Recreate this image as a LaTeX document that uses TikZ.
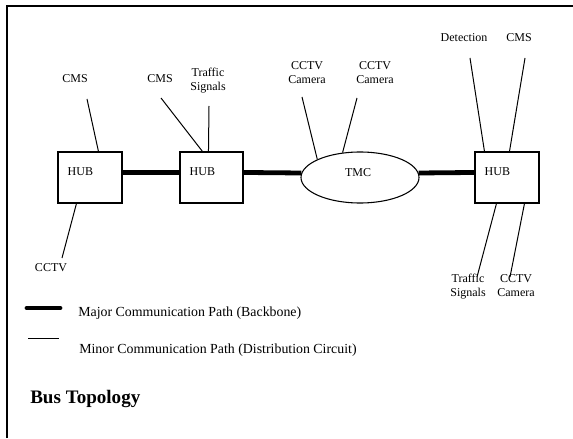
\documentclass[tikz,border=0pt]{standalone}
\usepackage{fontspec}
\setmainfont{Liberation Serif}
\usetikzlibrary{calc,shapes.geometric}

\tikzset{
  lbl/.style={inner sep=0pt, font=\fontsize{9}{10.5}\selectfont, align=center},
  hubbox/.style={draw, line width=0.8pt, minimum width=48pt, minimum height=38.25pt, inner sep=0pt},
  tmcshape/.style={draw, ellipse, line width=0.8pt, minimum width=88.5pt, minimum height=38.25pt, inner sep=0pt},
  major/.style={line width=3.6pt},
  minor/.style={line width=0.75pt},
  legendtext/.style={inner sep=0pt, anchor=base west, font=\fontsize{10.4}{12}\selectfont},
}

\begin{document}
\begin{tikzpicture}[x=0.75pt, y=-0.75pt]
\useasboundingbox (0,0) rectangle (573,438);

% outer frame (top and left edges)
\draw[line width=1pt] (7,438) -- (7,6) -- (573,6);

% hubs and traffic management centre
\node[hubbox] (hub1) at (90,177.5) {};
\node[hubbox, minimum width=47.25pt] (hub2) at (211.5,177.5) {};
\node[tmcshape] (tmc) at (360,177.5) {};
\node[hubbox] (hub3) at (507,177.5) {};

\node[lbl, anchor=base west] (hub1t) at ($(hub1.north west)+(10,24)$) {HUB};
\node[lbl, anchor=base west] (hub2t) at ($(hub2.north west)+(10,24)$) {HUB};
\node[lbl, anchor=base] (tmct) at (358,176) {TMC};
\node[lbl, anchor=base west] (hub3t) at ($(hub3.north west)+(10,24)$) {HUB};

% backbone
\draw[major] ($(hub1.north east)+(0,21)$) -- ($(hub2.north west)+(0,21)$);
\draw[major] ($(hub2.north east)+(0,21)$) -- ($(tmc.west)+(1,-4.5)$);
\draw[major] ($(tmc.east)+(-1,-4.5)$) -- ($(hub3.north west)+(0,21)$);

% field devices (two-line labels are placed by their last baseline)
\node[lbl, anchor=base] (cms1) at (75,83) {CMS};
\coordinate (cms1e) at (87,99);
\draw[minor] ($(hub1.north west)+(41,0)$) -- (cms1e);

\node[lbl, anchor=base] (cctv1) at (51,271) {CCTV};
\coordinate (cctv1e) at (62,258);
\draw[minor] ($(hub1.south west)+(19,0)$) -- (cctv1e);

\node[lbl, anchor=base] (cms2) at (160,83) {CMS};
\coordinate (cms2e) at (161,98);
\draw[minor] ($(hub2.north west)+(23,0)$) -- (cms2e);

\node[lbl, anchor=base] (ts2) at (208,91) {Traffic\\Signals};
\coordinate (ts2e) at (209,106);
\draw[minor] ($(hub2.north west)+(29,0)$) -- (ts2e);

\node[lbl, anchor=base] (cam1) at (307,84) {CCTV\\Camera};
\coordinate (cam1e) at (302,97);
\draw[minor] (tmc.157) -- (cam1e);

\node[lbl, anchor=base] (cam2) at (375,84) {CCTV\\Camera};
\coordinate (cam2e) at (357,98);
\draw[minor] (tmc.125) -- (cam2e);

\node[lbl, anchor=base] (det3) at (464,42) {Detection};
\coordinate (det3e) at (470,58);
\draw[minor] ($(hub3.north west)+(10,0)$) -- (det3e);

\node[lbl, anchor=base] (cms3) at (519,42) {CMS};
\coordinate (cms3e) at (525,58);
\draw[minor] ($(hub3.north west)+(35,0)$) -- (cms3e);

\node[lbl, anchor=base] (ts3) at (468,296) {Traffic\\Signals};
\coordinate (ts3e) at (477,277);
\draw[minor] ($(hub3.south west)+(22,0)$) -- (ts3e);

\node[lbl, anchor=base] (cam3) at (516,296) {CCTV\\Camera};
\coordinate (cam3e) at (510,277);
\draw[minor] ($(hub3.south west)+(50,0)$) -- (cam3e);

% legend
\draw[major, line cap=round] (27,308) -- (60,308);
\node[legendtext] (majort) at (78,316) {Major Communication Path (Backbone)};
\draw[minor] (28,338) -- (59,338);
\node[legendtext] (minort) at (79,353) {Minor Communication Path (Distribution Circuit)};

% title
\node[inner sep=0pt, anchor=base west, font=\fontsize{14.3}{17}\selectfont\bfseries] (title) at (30,403) {Bus Topology};
\end{tikzpicture}
\end{document}
